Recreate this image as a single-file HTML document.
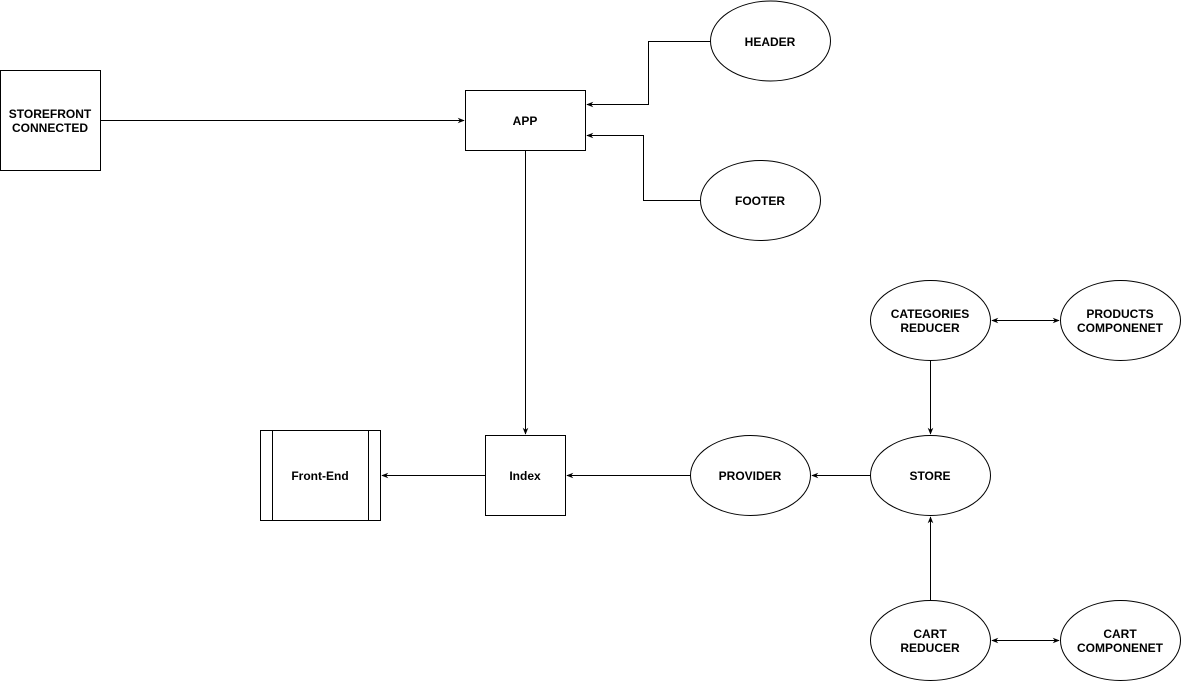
<!DOCTYPE html>
<html><head><meta charset="utf-8"><style>
html,body{margin:0;padding:0;background:#fff;}
svg text{font-family:"Liberation Sans",Arial,sans-serif;font-size:12px;font-weight:bold;fill:#000;text-anchor:middle;}
</style></head><body>
<svg width="1181" height="681" viewBox="0 0 1181 681" xmlns="http://www.w3.org/2000/svg">
<defs><marker id="a" viewBox="0 0 10 10" refX="9" refY="5" markerWidth="7" markerHeight="7" orient="auto-start-reverse"><path d="M0,1 L10,5 L0,9 L3,5 Z" fill="#000"/></marker></defs>
<g fill="#fff" stroke="#000" stroke-width="1">
<rect x="0.5" y="70.5" width="100" height="100"/>
<rect x="465.5" y="90.5" width="120" height="60"/>
<ellipse cx="770.5" cy="41" rx="60" ry="40"/>
<ellipse cx="760.5" cy="200.5" rx="60" ry="40"/>
<rect x="485.5" y="435.5" width="80" height="80"/>
<rect x="260.5" y="430.5" width="120" height="90"/>
<line x1="272.5" y1="430.5" x2="272.5" y2="520.5"/>
<line x1="368.5" y1="430.5" x2="368.5" y2="520.5"/>
<ellipse cx="750.5" cy="475.5" rx="60" ry="40"/>
<ellipse cx="930.5" cy="475.5" rx="60" ry="40"/>
<ellipse cx="930.5" cy="320.5" rx="60" ry="40"/>
<ellipse cx="1120.5" cy="320.5" rx="60" ry="40"/>
<ellipse cx="930.5" cy="640.5" rx="60" ry="40"/>
<ellipse cx="1120.5" cy="640.5" rx="60" ry="40"/>
</g>
<g fill="none" stroke="#000" stroke-width="1">
<line x1="100.5" y1="120.5" x2="464" y2="120.5" marker-end="url(#a)"/>
<polyline points="710.5,41.5 648.5,41.5 648.5,104.5 587,104.5" marker-end="url(#a)"/>
<polyline points="700.5,200.5 643.5,200.5 643.5,135.5 587,135.5" marker-end="url(#a)"/>
<line x1="525.5" y1="150.5" x2="525.5" y2="434" marker-end="url(#a)"/>
<line x1="485.5" y1="475.5" x2="382" y2="475.5" marker-end="url(#a)"/>
<line x1="690.5" y1="475.5" x2="567" y2="475.5" marker-end="url(#a)"/>
<line x1="870.5" y1="475.5" x2="812" y2="475.5" marker-end="url(#a)"/>
<line x1="930.5" y1="360.5" x2="930.5" y2="434" marker-end="url(#a)"/>
<line x1="930.5" y1="600.5" x2="930.5" y2="517" marker-end="url(#a)"/>
<line x1="992" y1="320.5" x2="1059" y2="320.5" marker-start="url(#a)" marker-end="url(#a)"/>
<line x1="992" y1="640.5" x2="1059" y2="640.5" marker-start="url(#a)" marker-end="url(#a)"/>
</g>
<text x="50" y="118">STOREFRONT</text><text x="50" y="132">CONNECTED</text>
<text x="525" y="125">APP</text>
<text x="770" y="46">HEADER</text>
<text x="760" y="205">FOOTER</text>
<text x="525" y="480">Index</text>
<text x="320" y="480">Front-End</text>
<text x="750" y="480">PROVIDER</text>
<text x="930" y="480">STORE</text>
<text x="930" y="318">CATEGORIES</text><text x="930" y="332">REDUCER</text>
<text x="1120" y="318">PRODUCTS</text><text x="1120" y="332">COMPONENET</text>
<text x="930" y="638">CART</text><text x="930" y="652">REDUCER</text>
<text x="1120" y="638">CART</text><text x="1120" y="652">COMPONENET</text>
</svg>
</body></html>
